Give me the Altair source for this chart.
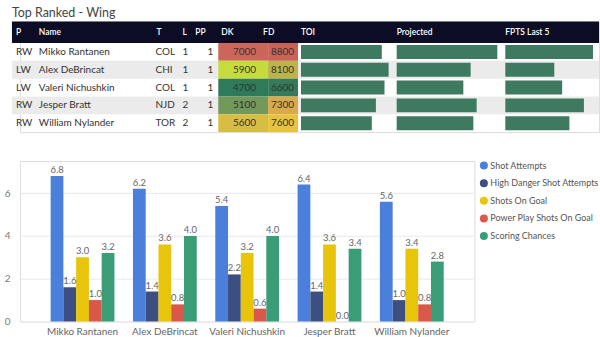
import altair as alt
import pandas as pd

# ---------------- data ----------------
positions = ["RW", "LW", "LW", "RW", "RW"]
players = ["Mikko Rantanen", "Alex DeBrincat", "Valeri Nichushkin", "Jesper Bratt", "William Nylander"]
teams = ["COL", "CHI", "COL", "NJD", "TOR"]
lines = [1, 1, 1, 2, 2]
pp_units = [1, 1, 1, 1, 1]
dk_salary = [7000, 5900, 4700, 5100, 5600]
fd_salary = [8800, 8100, 6600, 7300, 7600]
toi = [17.8, 19.3, 18.4, 16.5, 15.6]
projected = [15.1, 11.1, 10.0, 12.0, 11.5]
fpts_last5 = [14.5, 8.1, 9.4, 13.0, 10.6]

metrics = ["Shot Attempts", "High Danger Shot Attempts", "Shots On Goal",
           "Power Play Shots On Goal", "Scoring Chances"]
shot_attempts = [6.8, 6.2, 5.4, 6.4, 5.6]
high_danger = [1.6, 1.4, 2.2, 1.4, 1.0]
shots_on_goal = [3.0, 3.6, 3.2, 3.6, 3.4]
pp_shots = [1.0, 0.8, 0.6, 0.0, 0.8]
scoring_chances = [3.2, 4.0, 4.0, 3.4, 2.8]

metric_colors = ["#4a80dc", "#3d4e80", "#e8c40a", "#d9584a", "#3a9d78"]
FONT = "Lato"

# ---------------- table ----------------
tbl = pd.DataFrame({
    "row": list(range(len(players))),
    "pos": positions, "name": players, "team": teams, "line": lines, "pp": pp_units,
    "dk": dk_salary, "fd": fd_salary, "toi": toi, "proj": projected, "fpts": fpts_last5,
})
TW, TH = 581, 111
HDR = 21.6
L0 = -8  # table left edge relative to the shared plot origin
Y = alt.Y("name:N", sort=players, axis=None,
          scale=alt.Scale(domain=players, range=[HDR, TH], paddingInner=0, paddingOuter=0))
base = alt.Chart(tbl)
one = alt.Chart(pd.DataFrame({"k": [0]}))

layers = []
layers.append(base.transform_filter("datum.row % 2 == 1").mark_rect(color="#ebebeb")
              .encode(y=Y, x=alt.value(L0), x2=alt.value(TW)))
layers.append(one.mark_rect(color="#0c0c25")
              .encode(x=alt.value(L0), x2=alt.value(TW), y=alt.value(0), y2=alt.value(HDR)))

headers = [("P", -4), ("Name", 19), ("T", 137), ("L", 163), ("PP", 176), ("DK", 202),
           ("FD", 244), ("TOI", 282), ("Projected", 378), ("FPTS Last 5", 487)]
for lab, xp in headers:
    layers.append(one.mark_text(align="left", baseline="middle", fontSize=8.5, fontWeight=600,
                                color="white")
                  .encode(x=alt.value(xp), y=alt.value(HDR / 2), text=alt.value(lab)))

# heat cells
layers.append(base.mark_rect().encode(
    y=Y, x=alt.value(199), x2=alt.value(249),
    color=alt.Color("dk:Q", legend=None,
                    scale=alt.Scale(domain=[4700, 5100, 5600, 5900, 7000],
                                    range=["#2f7a5b", "#72985a", "#d8bd45", "#c6dc3e", "#cc665a"]))))
layers.append(base.mark_rect().encode(
    y=Y, x=alt.value(249), x2=alt.value(279),
    color=alt.Color("fd:Q", legend=None,
                    scale=alt.Scale(domain=[6600, 7300, 7600, 8100, 8800],
                                    range=["#357a5a", "#d9a94b", "#e8c33e", "#bcb44a", "#c96358"]))))


def col_text(field, xp, align="left"):
    return base.mark_text(align=align, baseline="middle", fontSize=10, color="#333").encode(
        y=Y, x=alt.value(xp), text=f"{field}")


layers += [col_text("pos:N", -4), col_text("name:N", 19), col_text("team:N", 136),
           col_text("line:Q", 163), col_text("pp:Q", 194, "right"),
           col_text("dk:Q", 237, "right"), col_text("fd:Q", 275, "right")]

for field, dom, rng in [("toi", 20.2, [282, 374]), ("proj", 15.7, [378, 483]),
                        ("fpts", 15.0, [487, 578])]:
    layers.append(base.mark_bar(size=14, color="#3e7a5f").encode(
        y=Y, x=alt.X(f"{field}:Q", axis=None, scale=alt.Scale(domain=[0, dom], range=rng))))

table = alt.layer(*layers).resolve_scale(x="independent", color="independent").properties(
    width=TW, height=TH,
    title=alt.TitleParams("Top Ranked - Wing", anchor="start", fontSize=12.5, fontWeight="normal",
                          color="#444", offset=0, dy=-2, font=FONT))

# ---------------- bar chart ----------------
series = [shot_attempts, high_danger, shots_on_goal, pp_shots, scoring_chances]
rows = []
for m, vals in zip(metrics, series):
    for p, v in zip(players, vals):
        rows.append({"player": p, "metric": m, "value": v})
long = pd.DataFrame(rows)

bars = alt.Chart(long).mark_bar().encode(
    x=alt.X("player:N", sort=players, title=None,
            scale=alt.Scale(paddingInner=0.225, paddingOuter=0.373),
            axis=alt.Axis(labelAngle=0, domain=False, ticks=False, labelFontSize=10,
                          labelColor="#666", labelPadding=5)),
    xOffset=alt.XOffset("metric:N", sort=metrics, scale=alt.Scale(paddingInner=0)),
    y=alt.Y("value:Q", title=None, scale=alt.Scale(domain=[0, 7.5], nice=False),
            axis=alt.Axis(values=[0, 2, 4, 6], domain=False, ticks=False, gridColor="#e9e9e9",
                          labelColor="#777", labelPadding=10, labelFontSize=10)),
    color=alt.Color("metric:N", sort=metrics, scale=alt.Scale(domain=metrics, range=metric_colors),
                    legend=alt.Legend(title=None, symbolType="circle", symbolSize=64,
                                      labelFontSize=9, labelColor="#555", rowPadding=7.7,
                                      offset=5, labelOffset=2, symbolStrokeWidth=0)),
)
labels = alt.Chart(long).mark_text(dy=-6, fontSize=9.5, color="#666").encode(
    x=alt.X("player:N", sort=players),
    xOffset=alt.XOffset("metric:N", sort=metrics),
    y=alt.Y("value:Q"),
    text=alt.Text("value:Q", format=".1f"),
)
barchart = alt.layer(bars, labels).properties(width=456, height=161)

chart = alt.vconcat(table, barchart, spacing=27).resolve_scale(
    color="independent", x="independent", y="independent"
).resolve_legend(color="independent").properties(
    padding={"left": 3, "top": 6, "right": 0, "bottom": 0}
).configure_view(stroke=None).configure(font=FONT)

chart.save("out.html", embed_options={"renderer": "svg", "actions": False})
